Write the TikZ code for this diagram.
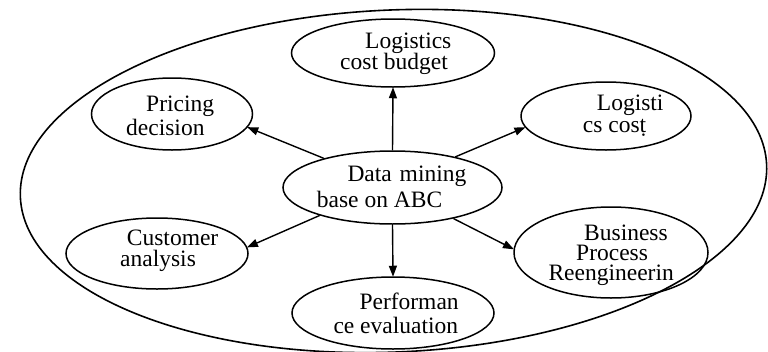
\documentclass[tikz,border=0pt]{standalone}
\usepackage{fontspec}
\setmainfont{Liberation Serif}
\usetikzlibrary{shapes.geometric,arrows.meta}

\begin{document}
\begin{tikzpicture}[x=1pt,y=-1pt,
  bub/.style={draw, ellipse, line width=1.5pt, inner sep=0pt},
  txt/.style={anchor=base west, inner sep=0pt, font=\fontsize{23.5}{26}\selectfont},
  arr/.style={line width=1.4pt, -{Triangle[length=11pt,width=8pt]}, shorten >=-0.5pt}]
  \useasboundingbox (0,0) rectangle (768,351);
  \clip (0,0) rectangle (768,351);

  % enclosing boundary
  \node[bub, line width=1.6pt, rotate=2.5, minimum width=747pt, minimum height=342pt]
    (frame) at (393.5,181) {};

  % centre and satellite ellipses
  \node[bub, minimum width=219pt, minimum height=73pt] (core) at (392.5,187.5) {};
  \node[bub, minimum width=203pt, minimum height=68pt] (budget) at (393,53) {};
  \node[bub, minimum width=170pt, minimum height=68pt] (cost) at (606,116) {};
  \node[bub, minimum width=194pt, minimum height=91pt] (bpr) at (611,252.5) {};
  \node[bub, minimum width=202pt, minimum height=72pt] (perf) at (393,313) {};
  \node[bub, minimum width=161pt, minimum height=72pt] (price) at (172,114) {};
  \node[bub, minimum width=182pt, minimum height=71pt] (cust) at (157,253.5) {};

  % labels, line by line
  \node[txt] (core1) at (347.3,181.7) {Data\hspace{2pt} mining};
  \node[txt] (core2) at (316.7,207.7) {base on ABC};
  \node[txt] (budget1) at (365,48.3) {Logistics};
  \node[txt] (budget2) at (340,69) {cost budget};
  \node[txt] (cost1) at (596.7,110) {Logisti};
  \node[txt] (cost2) at (582.7,132.3) {cs cosṭ};
  \node[txt] (bpr1) at (584,240) {Business};
  \node[txt] (bpr2) at (576,260.7) {Process};
  \node[txt] (bpr3) at (548.3,280) {Reengineerin};
  \node[txt] (perf1) at (359.3,309.3) {Performan};
  \node[txt] (perf2) at (333.3,333.3) {ce evaluation};
  \node[txt] (price1) at (146,111.7) {Pricing};
  \node[txt] (price2) at (126,135) {decision};
  \node[txt] (cust1) at (126.7,245) {Customer};
  \node[txt] (cust2) at (120,266) {analysis};

  % connectors
  \draw[arr] (core.north) -- (budget.south);
  \draw[arr] (core.26) -- (cost.-172);
  \draw[arr] (core.-27) -- (bpr.178);
  \draw[arr] (core.south) -- (perf.north);
  \draw[arr] (core.157) -- (price.-10);
  \draw[arr] (core.-159) -- (cust.4);
\end{tikzpicture}
\end{document}
